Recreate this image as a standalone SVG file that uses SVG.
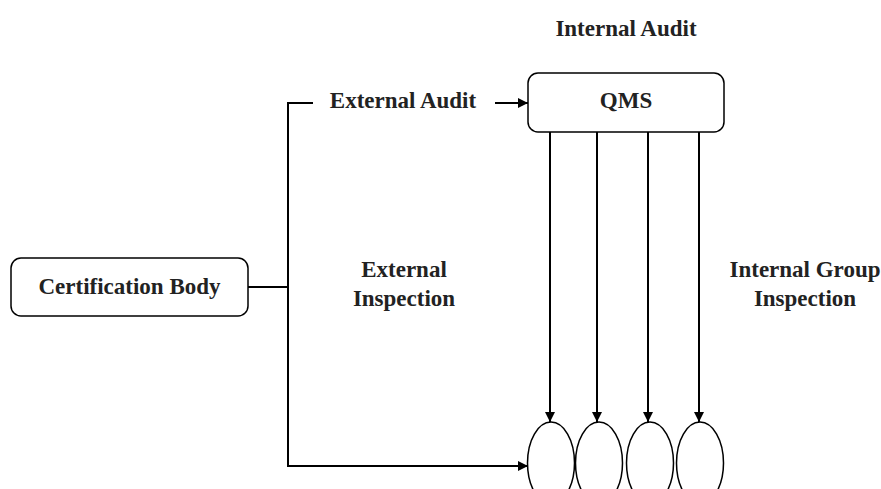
<svg xmlns="http://www.w3.org/2000/svg" width="881" height="489" viewBox="0 0 881 489">
  <style>
    .box { fill: #ffffff; stroke: #000000; stroke-width: 1.5; }
    .oval { fill: #ffffff; stroke: #000000; stroke-width: 1.5; }
    .wire { fill: none; stroke: #000000; stroke-width: 2; }
    .label { font-family: "Liberation Serif", "Times New Roman", serif; font-weight: bold; font-size: 23px; fill: #222222; text-anchor: middle; }
  </style>
  <defs>
    <marker id="arrow" viewBox="0 0 10 10" refX="10" refY="5" markerWidth="11" markerHeight="10" orient="auto" markerUnits="userSpaceOnUse">
      <path d="M0,0 L10,5 L0,10 z" fill="#000000"/>
    </marker>
  </defs>
  <rect width="881" height="489" fill="#ffffff"/>

  <!-- free-standing labels -->
  <text class="label" x="626" y="36">Internal Audit</text>
  <text class="label" x="404" y="277">External</text>
  <text class="label" x="404" y="306">Inspection</text>
  <text class="label" x="805" y="277">Internal Group</text>
  <text class="label" x="805" y="306">Inspection</text>
  <text class="label" x="403" y="108">External Audit</text>

  <!-- connectors -->
  <g id="connectors">
    <path class="wire" d="M313,103 H288 V466 H528" marker-end="url(#arrow)"/>
    <path class="wire" d="M248,287 H288"/>
    <path class="wire" d="M495,103 H528" marker-end="url(#arrow)"/>
    <path class="wire" d="M550,132 V422" marker-end="url(#arrow)"/>
    <path class="wire" d="M597,132 V422" marker-end="url(#arrow)"/>
    <path class="wire" d="M648,132 V422" marker-end="url(#arrow)"/>
    <path class="wire" d="M699,132 V422" marker-end="url(#arrow)"/>
  </g>

  <g id="certification-body">
    <rect class="box" x="11" y="258" width="237" height="58" rx="10"/>
    <text class="label" x="129.5" y="294">Certification Body</text>
  </g>

  <g id="qms">
    <rect class="box" x="528" y="73" width="196" height="59" rx="10"/>
    <text class="label" x="626" y="108">QMS</text>
  </g>

  <g id="unit-1"><ellipse class="oval" cx="551" cy="463" rx="23.5" ry="41"/></g>
  <g id="unit-2"><ellipse class="oval" cx="599" cy="463" rx="23.5" ry="41"/></g>
  <g id="unit-3"><ellipse class="oval" cx="650" cy="463" rx="23.5" ry="41"/></g>
  <g id="unit-4"><ellipse class="oval" cx="700" cy="463" rx="23.5" ry="41"/></g>
</svg>
